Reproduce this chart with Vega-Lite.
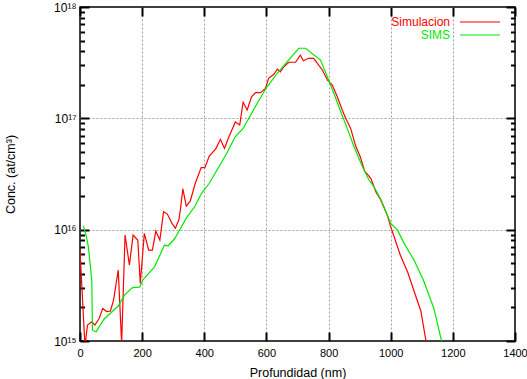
{
  "$schema": "https://vega.github.io/schema/vega-lite/v6.json",
  "width": 435,
  "height": 334,
  "autosize": {"type": "none"},
  "padding": {"left": 80, "top": 7, "right": 12, "bottom": 38},
  "config": {
    "font": "Liberation Sans",
    "view": {"stroke": "black", "strokeWidth": 1.5},
    "axis": {
      "domain": false,
      "ticks": true,
      "tickColor": "#000000",
      "tickWidth": 2,
      "tickOpacity": 1,
      "labelColor": "black",
      "titleColor": "black",
      "labelFont": "Liberation Sans",
      "titleFont": "Liberation Sans",
      "labelFontSize": 11.5,
      "titleFontSize": 12.5,
      "titleFontWeight": "normal",
      "gridDash": [2, 2],
      "gridColor": "#a0a0a0",
      "gridWidth": 1,
      "labelFlush": false,
      "labelOverlap": false
    }
  },
  "datasets": {
    "profiles": [
      {"series": "Simulacion", "depth": 0, "conc": 6.5e15},
      {"series": "Simulacion", "depth": 16, "conc": 9.0e14},
      {"series": "Simulacion", "depth": 24, "conc": 1.39e15},
      {"series": "Simulacion", "depth": 38, "conc": 1.49e15},
      {"series": "Simulacion", "depth": 48, "conc": 1.39e15},
      {"series": "Simulacion", "depth": 62, "conc": 1.60e15},
      {"series": "Simulacion", "depth": 73, "conc": 1.96e15},
      {"series": "Simulacion", "depth": 86, "conc": 1.84e15},
      {"series": "Simulacion", "depth": 98, "conc": 1.86e15},
      {"series": "Simulacion", "depth": 108, "conc": 2.33e15},
      {"series": "Simulacion", "depth": 123, "conc": 4.34e15},
      {"series": "Simulacion", "depth": 134, "conc": 9.5e14},
      {"series": "Simulacion", "depth": 145, "conc": 8.94e15},
      {"series": "Simulacion", "depth": 159, "conc": 4.81e15},
      {"series": "Simulacion", "depth": 171, "conc": 8.94e15},
      {"series": "Simulacion", "depth": 186, "conc": 8.07e15},
      {"series": "Simulacion", "depth": 194, "conc": 3.29e15},
      {"series": "Simulacion", "depth": 207, "conc": 9.27e15},
      {"series": "Simulacion", "depth": 221, "conc": 6.56e15},
      {"series": "Simulacion", "depth": 233, "conc": 6.56e15},
      {"series": "Simulacion", "depth": 244, "conc": 9.71e15},
      {"series": "Simulacion", "depth": 257, "conc": 8.07e15},
      {"series": "Simulacion", "depth": 269, "conc": 1.45e16},
      {"series": "Simulacion", "depth": 281, "conc": 1.38e16},
      {"series": "Simulacion", "depth": 296, "conc": 1.14e16},
      {"series": "Simulacion", "depth": 307, "conc": 1.03e16},
      {"series": "Simulacion", "depth": 318, "conc": 1.22e16},
      {"series": "Simulacion", "depth": 323, "conc": 1.50e16},
      {"series": "Simulacion", "depth": 331, "conc": 2.33e16},
      {"series": "Simulacion", "depth": 342, "conc": 1.63e16},
      {"series": "Simulacion", "depth": 355, "conc": 1.81e16},
      {"series": "Simulacion", "depth": 371, "conc": 2.61e16},
      {"series": "Simulacion", "depth": 390, "conc": 3.61e16},
      {"series": "Simulacion", "depth": 402, "conc": 3.61e16},
      {"series": "Simulacion", "depth": 416, "conc": 4.58e16},
      {"series": "Simulacion", "depth": 437, "conc": 5.32e16},
      {"series": "Simulacion", "depth": 452, "conc": 6.48e16},
      {"series": "Simulacion", "depth": 465, "conc": 5.37e16},
      {"series": "Simulacion", "depth": 478, "conc": 6.68e16},
      {"series": "Simulacion", "depth": 500, "conc": 9.27e16},
      {"series": "Simulacion", "depth": 514, "conc": 8.71e16},
      {"series": "Simulacion", "depth": 525, "conc": 1.40e17},
      {"series": "Simulacion", "depth": 538, "conc": 1.19e17},
      {"series": "Simulacion", "depth": 552, "conc": 1.56e17},
      {"series": "Simulacion", "depth": 565, "conc": 1.70e17},
      {"series": "Simulacion", "depth": 581, "conc": 1.70e17},
      {"series": "Simulacion", "depth": 597, "conc": 1.86e17},
      {"series": "Simulacion", "depth": 607, "conc": 2.29e17},
      {"series": "Simulacion", "depth": 624, "conc": 2.49e17},
      {"series": "Simulacion", "depth": 635, "conc": 2.76e17},
      {"series": "Simulacion", "depth": 645, "conc": 2.62e17},
      {"series": "Simulacion", "depth": 656, "conc": 2.91e17},
      {"series": "Simulacion", "depth": 672, "conc": 3.19e17},
      {"series": "Simulacion", "depth": 694, "conc": 3.19e17},
      {"series": "Simulacion", "depth": 709, "conc": 3.70e17},
      {"series": "Simulacion", "depth": 719, "conc": 3.29e17},
      {"series": "Simulacion", "depth": 736, "conc": 3.46e17},
      {"series": "Simulacion", "depth": 752, "conc": 3.46e17},
      {"series": "Simulacion", "depth": 764, "conc": 3.11e17},
      {"series": "Simulacion", "depth": 780, "conc": 2.72e17},
      {"series": "Simulacion", "depth": 796, "conc": 2.21e17},
      {"series": "Simulacion", "depth": 812, "conc": 1.99e17},
      {"series": "Simulacion", "depth": 828, "conc": 1.56e17},
      {"series": "Simulacion", "depth": 844, "conc": 1.19e17},
      {"series": "Simulacion", "depth": 855, "conc": 1.00e17},
      {"series": "Simulacion", "depth": 871, "conc": 8.13e16},
      {"series": "Simulacion", "depth": 887, "conc": 5.66e16},
      {"series": "Simulacion", "depth": 903, "conc": 4.45e16},
      {"series": "Simulacion", "depth": 916, "conc": 3.36e16},
      {"series": "Simulacion", "depth": 936, "conc": 2.89e16},
      {"series": "Simulacion", "depth": 952, "conc": 2.19e16},
      {"series": "Simulacion", "depth": 968, "conc": 1.85e16},
      {"series": "Simulacion", "depth": 989, "conc": 1.35e16},
      {"series": "Simulacion", "depth": 1000, "conc": 1.06e16},
      {"series": "Simulacion", "depth": 1011, "conc": 8.63e15},
      {"series": "Simulacion", "depth": 1032, "conc": 5.79e15},
      {"series": "Simulacion", "depth": 1055, "conc": 4.12e15},
      {"series": "Simulacion", "depth": 1075, "conc": 2.81e15},
      {"series": "Simulacion", "depth": 1097, "conc": 1.86e15},
      {"series": "Simulacion", "depth": 1113, "conc": 1.02e15},
      {"series": "Simulacion", "depth": 1116, "conc": 9.0e14},
      {"series": "SIMS", "depth": 11, "conc": 1.08e16},
      {"series": "SIMS", "depth": 20, "conc": 8.8e15},
      {"series": "SIMS", "depth": 27, "conc": 7.0e15},
      {"series": "SIMS", "depth": 38, "conc": 3.5e15},
      {"series": "SIMS", "depth": 40, "conc": 1.25e15},
      {"series": "SIMS", "depth": 52, "conc": 1.21e15},
      {"series": "SIMS", "depth": 77, "conc": 1.57e15},
      {"series": "SIMS", "depth": 123, "conc": 2.06e15},
      {"series": "SIMS", "depth": 143, "conc": 2.58e15},
      {"series": "SIMS", "depth": 169, "conc": 3.02e15},
      {"series": "SIMS", "depth": 192, "conc": 3.05e15},
      {"series": "SIMS", "depth": 203, "conc": 3.56e15},
      {"series": "SIMS", "depth": 240, "conc": 4.64e15},
      {"series": "SIMS", "depth": 272, "conc": 7.27e15},
      {"series": "SIMS", "depth": 283, "conc": 7.13e15},
      {"series": "SIMS", "depth": 304, "conc": 8.24e15},
      {"series": "SIMS", "depth": 323, "conc": 1.02e16},
      {"series": "SIMS", "depth": 342, "conc": 1.27e16},
      {"series": "SIMS", "depth": 371, "conc": 1.64e16},
      {"series": "SIMS", "depth": 391, "conc": 2.12e16},
      {"series": "SIMS", "depth": 416, "conc": 2.61e16},
      {"series": "SIMS", "depth": 471, "conc": 4.78e16},
      {"series": "SIMS", "depth": 500, "conc": 6.86e16},
      {"series": "SIMS", "depth": 524, "conc": 8.02e16},
      {"series": "SIMS", "depth": 570, "conc": 1.36e17},
      {"series": "SIMS", "depth": 602, "conc": 1.92e17},
      {"series": "SIMS", "depth": 635, "conc": 2.54e17},
      {"series": "SIMS", "depth": 667, "conc": 3.23e17},
      {"series": "SIMS", "depth": 704, "conc": 4.26e17},
      {"series": "SIMS", "depth": 726, "conc": 4.26e17},
      {"series": "SIMS", "depth": 774, "conc": 3.34e17},
      {"series": "SIMS", "depth": 797, "conc": 2.33e17},
      {"series": "SIMS", "depth": 817, "conc": 1.68e17},
      {"series": "SIMS", "depth": 839, "conc": 1.15e17},
      {"series": "SIMS", "depth": 860, "conc": 8.13e16},
      {"series": "SIMS", "depth": 882, "conc": 5.56e16},
      {"series": "SIMS", "depth": 909, "conc": 3.67e16},
      {"series": "SIMS", "depth": 930, "conc": 2.79e16},
      {"series": "SIMS", "depth": 946, "conc": 2.43e16},
      {"series": "SIMS", "depth": 968, "conc": 1.88e16},
      {"series": "SIMS", "depth": 1000, "conc": 1.14e16},
      {"series": "SIMS", "depth": 1022, "conc": 9.9e15},
      {"series": "SIMS", "depth": 1043, "conc": 7.53e15},
      {"series": "SIMS", "depth": 1075, "conc": 5.33e15},
      {"series": "SIMS", "depth": 1105, "conc": 3.53e15},
      {"series": "SIMS", "depth": 1139, "conc": 1.96e15},
      {"series": "SIMS", "depth": 1163, "conc": 1.02e15},
      {"series": "SIMS", "depth": 1168, "conc": 9.2e14}
    ]
  },
  "data": {"name": "profiles"},
  "layer": [
    {
      "mark": {"type": "line", "clip": true, "strokeWidth": 1.2},
      "encoding": {
        "x": {
          "field": "depth",
          "type": "quantitative",
          "scale": {"domain": [0, 1400], "nice": false, "zero": false},
          "axis": {
            "orient": "bottom",
            "values": [200, 400, 600, 800, 1000, 1200],
            "grid": true,
            "ticks": false,
            "labels": false,
            "title": null
          }
        },
        "y": {
          "field": "conc",
          "type": "quantitative",
          "scale": {"type": "log", "domain": [1e15, 1e18], "nice": false},
          "axis": {
            "orient": "left",
            "values": [1e16, 1e17],
            "grid": true,
            "ticks": false,
            "labels": false,
            "title": null
          }
        },
        "color": {
          "field": "series",
          "type": "nominal",
          "scale": {"domain": ["Simulacion", "SIMS"], "range": ["#ff0000", "#00e800"]},
          "legend": {
            "title": null,
            "orient": "none",
            "legendX": 394,
            "legendY": 9,
            "padding": 0,
            "rowPadding": 1,
            "symbolType": "M-4,0H4",
            "symbolSize": 100,
            "symbolStrokeWidth": 1,
            "labelAlign": "right",
            "labelOffset": -36,
            "labelFontSize": 12,
            "labelFont": "Liberation Sans",
            "encode": {"labels": {"update": {"fill": {"scale": "color", "field": "value"}}}}
          }
        }
      }
    },
    {
      "mark": {"type": "line", "clip": true, "strokeOpacity": 0},
      "encoding": {
        "x": {
          "field": "depth",
          "type": "quantitative",
          "axis": {
            "orient": "bottom",
            "values": [0, 200, 400, 600, 800, 1000, 1200, 1400],
            "format": "d",
            "grid": false,
            "offset": -9,
            "tickSize": 9,
            "tickColor": "#000000",
            "tickWidth": 2,
            "labelPadding": 6,
            "labelFontSize": 11,
            "title": "Profundidad (nm)",
            "titleY": 40,
            "titleBaseline": "middle"
          }
        },
        "y": {
          "field": "conc",
          "type": "quantitative",
          "axis": {
            "orient": "left",
            "values": [1e15, 1e16, 1e17, 1e18],
            "grid": false,
            "offset": -9,
            "tickSize": 9,
            "tickColor": "#000000",
            "tickWidth": 2,
            "labelExpr": "datum.value == 1e15 ? '10¹⁵' : datum.value == 1e16 ? '10¹⁶' : datum.value == 1e17 ? '10¹⁷' : '10¹⁸'",
            "labelPadding": 4,
            "labelFontSize": 12,
            "title": "Conc. (at/cm³)",
            "titleX": -79,
            "titleY": 167,
            "titleBaseline": "middle"
          }
        },
        "detail": {"field": "series", "type": "nominal"}
      }
    },
    {
      "mark": {"type": "line", "clip": true, "strokeOpacity": 0},
      "encoding": {
        "x": {
          "field": "depth",
          "type": "quantitative",
          "axis": {
            "orient": "top",
            "values": [0, 200, 400, 600, 800, 1000, 1200, 1400],
            "grid": false,
            "offset": -9,
            "tickSize": 9,
            "tickColor": "#000000",
            "tickWidth": 2,
            "labels": false,
            "title": null
          }
        },
        "y": {
          "field": "conc",
          "type": "quantitative",
          "axis": {
            "orient": "right",
            "values": [1e15, 1e16, 1e17, 1e18],
            "grid": false,
            "offset": -9,
            "tickSize": 9,
            "tickColor": "#000000",
            "tickWidth": 2,
            "labels": false,
            "title": null
          }
        },
        "detail": {"field": "series", "type": "nominal"}
      }
    },
    {
      "mark": {"type": "line", "clip": true, "strokeOpacity": 0},
      "encoding": {
        "x": {"field": "depth", "type": "quantitative", "axis": null},
        "y": {
          "field": "conc",
          "type": "quantitative",
          "axis": {
            "orient": "left",
            "values": [2e15, 3e15, 4e15, 5e15, 6e15, 7e15, 8e15, 9e15, 2e16, 3e16, 4e16, 5e16, 6e16, 7e16, 8e16, 9e16, 2e17, 3e17, 4e17, 5e17, 6e17, 7e17, 8e17, 9e17],
            "grid": false,
            "offset": -4.5,
            "tickSize": 4.5,
            "tickColor": "#000000",
            "tickWidth": 2,
            "labels": false,
            "title": null
          }
        },
        "detail": {"field": "series", "type": "nominal"}
      }
    },
    {
      "mark": {"type": "line", "clip": true, "strokeOpacity": 0},
      "encoding": {
        "x": {"field": "depth", "type": "quantitative", "axis": null},
        "y": {
          "field": "conc",
          "type": "quantitative",
          "axis": {
            "orient": "right",
            "values": [2e15, 3e15, 4e15, 5e15, 6e15, 7e15, 8e15, 9e15, 2e16, 3e16, 4e16, 5e16, 6e16, 7e16, 8e16, 9e16, 2e17, 3e17, 4e17, 5e17, 6e17, 7e17, 8e17, 9e17],
            "grid": false,
            "offset": -4.5,
            "tickSize": 4.5,
            "tickColor": "#000000",
            "tickWidth": 2,
            "labels": false,
            "title": null
          }
        },
        "detail": {"field": "series", "type": "nominal"}
      }
    }
  ],
  "resolve": {"axis": {"x": "independent", "y": "independent"}}
}
